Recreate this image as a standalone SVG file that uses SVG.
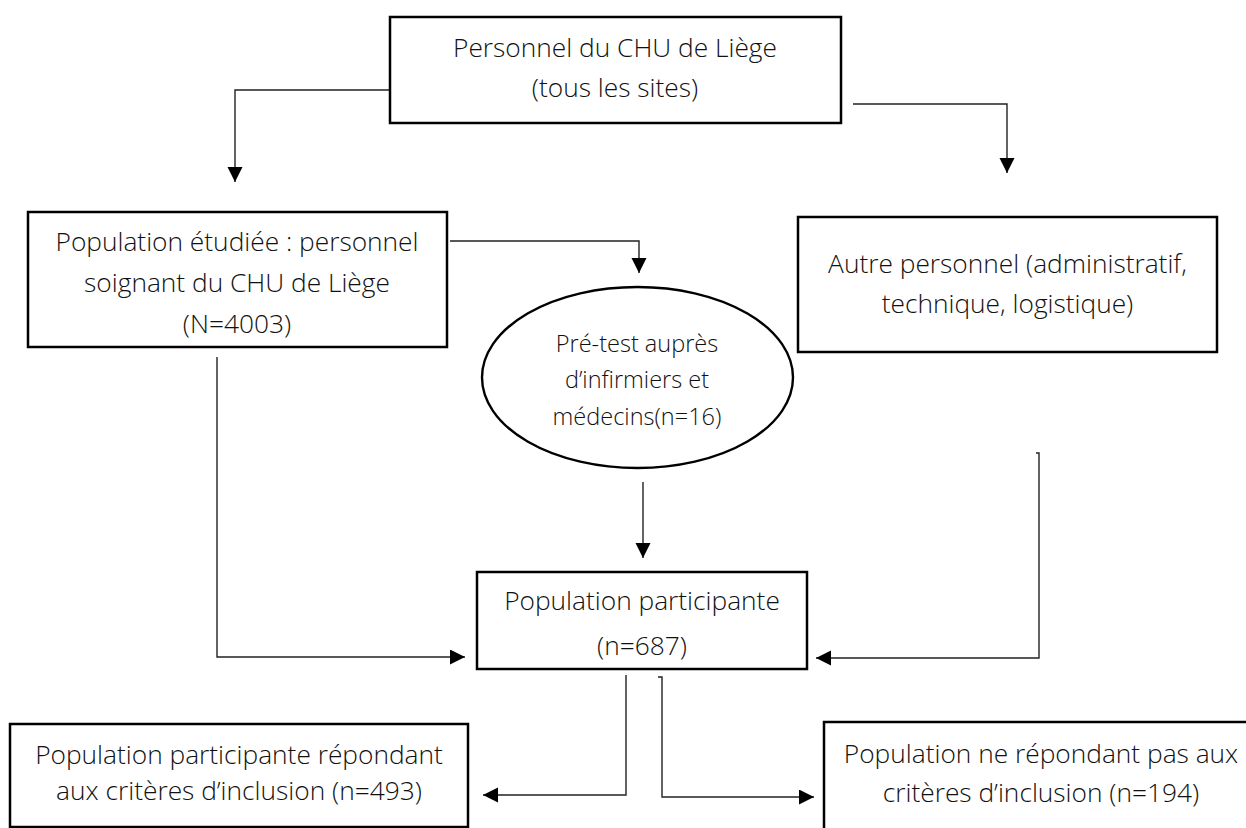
<svg xmlns="http://www.w3.org/2000/svg" width="1246" height="828" viewBox="0 0 1246 828">
<defs>
<style>
.box{fill:#fff;stroke:#000;stroke-width:2.5}
.ell{fill:#fff;stroke:#000;stroke-width:2.4}
.t{font-family:"Open Sans","Noto Sans","Liberation Sans",sans-serif;font-weight:300;font-size:26.3px;fill:#111;text-anchor:middle}
.ts{font-size:23.5px}
.c{fill:none;stroke:#222;stroke-width:1.4}
</style>
<marker id="ah" markerUnits="userSpaceOnUse" markerWidth="16" markerHeight="16" refX="15" refY="7.5" orient="auto">
<path d="M0,0 L15,7.5 L0,15 Z" fill="#000"/>
</marker>
</defs>
<rect width="1246" height="828" fill="#fff"/>
<g id="connectors">
<path class="c" d="M389,90 H235 V182" marker-end="url(#ah)"/>
<path class="c" d="M853,104 H1007 V173" marker-end="url(#ah)"/>
<path class="c" d="M450,241 H639 V273" marker-end="url(#ah)"/>
<path class="c" d="M643,482 V558" marker-end="url(#ah)"/>
<path class="c" d="M217,357 V657 H465" marker-end="url(#ah)"/>
<path class="c" d="M1036,453 H1039 V658 H816" marker-end="url(#ah)"/>
<path class="c" d="M626,675 V795 H483" marker-end="url(#ah)"/>
<path class="c" d="M658,677 H662 V797 H814" marker-end="url(#ah)"/>
</g>
<g id="n-top">
<rect class="box" x="390" y="17" width="451" height="106"/>
<text class="t" x="615" y="57">Personnel du CHU de Liège</text>
<text class="t" x="615" y="97">(tous les sites)</text>
</g>
<g id="n-left">
<rect class="box" x="28" y="212" width="419" height="135"/>
<text class="t" x="237" y="251">Population étudiée : personnel</text>
<text class="t" x="237" y="292">soignant du CHU de Liège</text>
<text class="t" x="237" y="333">(N=4003)</text>
</g>
<g id="n-right">
<rect class="box" x="798" y="217" width="419" height="135"/>
<text class="t" x="1007.5" y="273">Autre personnel (administratif,</text>
<text class="t" x="1007.5" y="313">technique, logistique)</text>
</g>
<g id="n-pretest">
<ellipse class="ell" cx="637.5" cy="377.5" rx="155.5" ry="90.5"/>
<text class="t ts" x="637" y="352">Pré-test auprès</text>
<text class="t ts" x="637" y="388">d’infirmiers et</text>
<text class="t ts" x="637" y="425">médecins(n=16)</text>
</g>
<g id="n-participants">
<rect class="box" x="477" y="572" width="330" height="97"/>
<text class="t" x="642" y="610">Population participante</text>
<text class="t" x="642" y="655">(n=687)</text>
</g>
<g id="n-included">
<rect class="box" x="10" y="724" width="458" height="103"/>
<text class="t" x="239" y="764">Population participante répondant</text>
<text class="t" x="239" y="800">aux critères d’inclusion (n=493)</text>
</g>
<g id="n-excluded">
<rect class="box" x="824" y="722" width="430" height="120"/>
<text class="t" x="1041" y="763">Population ne répondant pas aux</text>
<text class="t" x="1041" y="802">critères d’inclusion (n=194)</text>
</g>
</svg>
